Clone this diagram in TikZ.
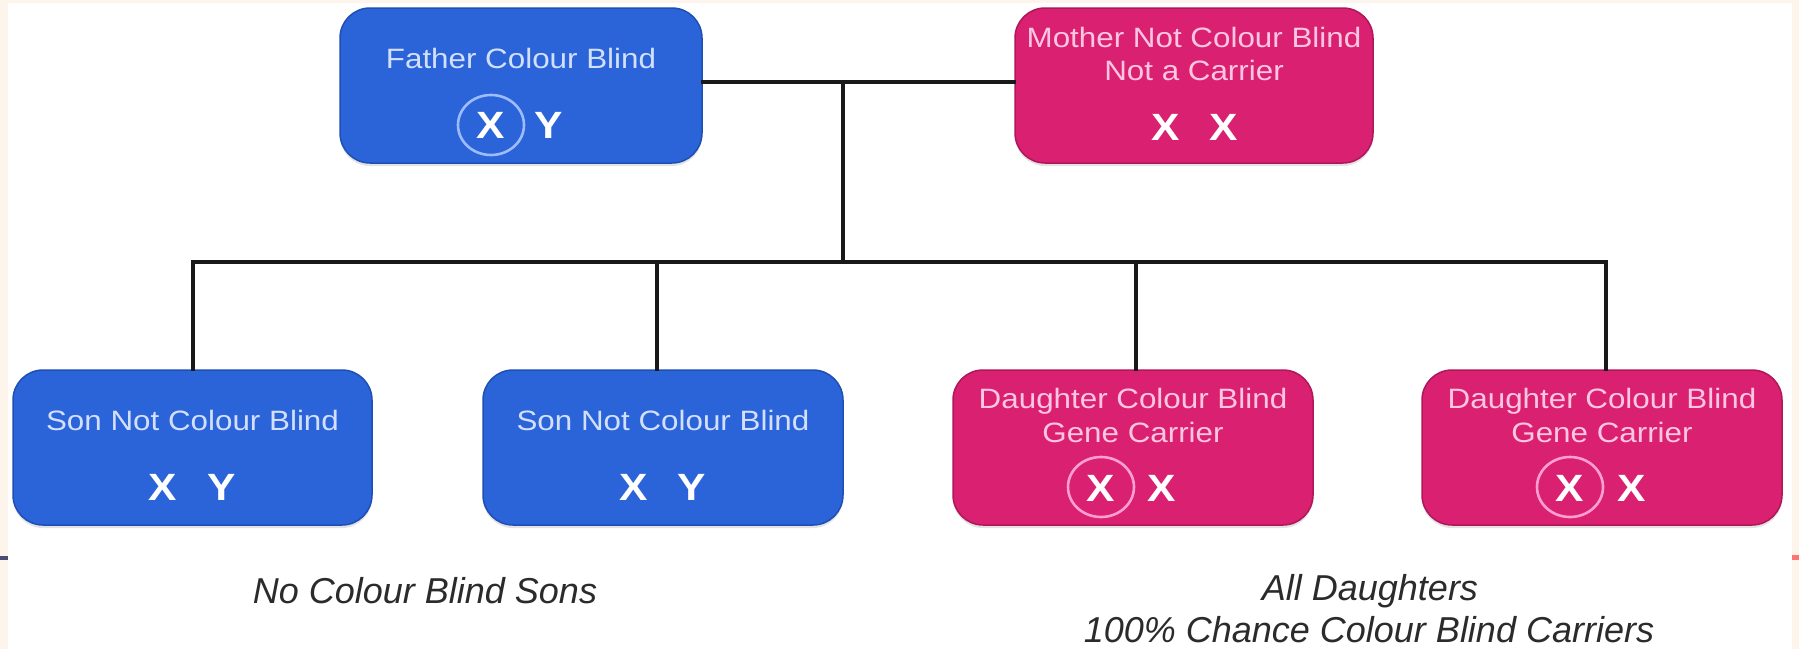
\documentclass[tikz,border=0pt]{standalone}
\usepackage{fontspec}
\usepackage{graphicx}
\setmainfont{Liberation Sans}
\usetikzlibrary{shadows}

\definecolor{boyfill}{HTML}{2A64D8}
\definecolor{boyedge}{HTML}{1F4FB5}
\definecolor{boytext}{HTML}{D2DFFF}
\definecolor{boyring}{HTML}{9DBBFF}
\definecolor{girlfill}{HTML}{DA2070}
\definecolor{girledge}{HTML}{B0175A}
\definecolor{girltext}{HTML}{FFC6E2}
\definecolor{girlring}{HTML}{FF9FD0}
\definecolor{cream}{HTML}{FDF5EC}
\definecolor{notegray}{HTML}{2B2B2B}

% slightly widened sans text, as used inside the boxes
\newcommand\widetext[1]{\scalebox{1.12}[1]{#1}}

\tikzset{
  person/.style={rounded corners=30pt, line width=1.5pt, inner sep=0pt,
    drop shadow={shadow xshift=0pt, shadow yshift=-3pt, opacity=0.22}},
  boy/.style={person, draw=boyedge, fill=boyfill},
  girl/.style={person, draw=girledge, fill=girlfill},
  title/.style={anchor=base, inner sep=0pt, font=\fontsize{28}{33}\selectfont},
  gene/.style={anchor=base, inner sep=0pt, font=\fontsize{38}{40}\bfseries},
  ring/.style={line width=2.6pt},
  link/.style={line width=4pt, draw=black!90, line cap=rect},
  note/.style={anchor=base, inner sep=0pt, text=notegray,
    font=\fontsize{36}{38}\selectfont\itshape}
}

\begin{document}
\begin{tikzpicture}[x=1pt, y=-1pt]
  \useasboundingbox (0,0) rectangle (1799,649);
  \fill[white] (0,0) rectangle (1799,649);
  % pale frame strips and edge marks
  \fill[cream] (0,0) rectangle (8,649);
  \fill[cream] (1792,0) rectangle (1799,649);
  \fill[cream] (0,0) rectangle (1799,3);
  \fill[black!60!blue!40!gray] (0,556) rectangle (8,560);
  \fill[red!55!white] (1792,555) rectangle (1799,560);

  % parents
  \node[boy, minimum width=362pt, minimum height=155pt] (father) at (521,85.5) {};
  \node[girl, minimum width=358pt, minimum height=155pt] (mother) at (1194,85.5) {};

  % children
  \node[boy, minimum width=359pt, minimum height=155pt] (son1) at (192.5,447.5) {};
  \node[boy, minimum width=360pt, minimum height=155pt] (son2) at (663,447.5) {};
  \node[girl, minimum width=360pt, minimum height=155pt] (dau1) at (1133,447.5) {};
  \node[girl, minimum width=360pt, minimum height=155pt] (dau2) at (1602,447.5) {};

  % family tree lines
  \coordinate (pj) at (843,82);
  \coordinate (sj) at (843,262);
  \draw[link] (father.east |- pj) -- (mother.west |- pj);
  \draw[link] (pj) -- (sj);
  \coordinate (d1) at (193,262);
  \coordinate (d2) at (657,262);
  \coordinate (d3) at (1136,262);
  \coordinate (d4) at (1606,262);
  \draw[link] (d1) -- (d4);
  \draw[link] (d1) -- (son1.north -| d1);
  \draw[link] (d2) -- (son2.north -| d2);
  \draw[link] (d3) -- (dau1.north -| d3);
  \draw[link] (d4) -- (dau2.north -| d4);

  % father text
  \node[title, text=boytext] (ft) at (521,68) {\widetext{Father Colour Blind}};
  \draw[ring, draw=boyring] (491,125) ellipse [x radius=33, y radius=30];
  \node[gene, text=white] (fx) at (491,138) {\widetext{X}};
  \node[gene, text=white] (fy) at (549,138) {\widetext{Y}};

  % mother text
  \node[title, text=girltext] (mt1) at (1194,47) {\widetext{Mother Not Colour Blind}};
  \node[title, text=girltext] (mt2) at (1194,80) {\widetext{Not a Carrier}};
  \node[gene, text=white] (mx1) at (1166,140) {\widetext{X}};
  \node[gene, text=white] (mx2) at (1224,140) {\widetext{X}};

  % sons text
  \node[title, text=boytext] (s1t) at (192.5,430) {\widetext{Son Not Colour Blind}};
  \node[gene, text=white] (s1x) at (163,500) {\widetext{X}};
  \node[gene, text=white] (s1y) at (222,500) {\widetext{Y}};
  \node[title, text=boytext] (s2t) at (663,430) {\widetext{Son Not Colour Blind}};
  \node[gene, text=white] (s2x) at (634,500) {\widetext{X}};
  \node[gene, text=white] (s2y) at (692,500) {\widetext{Y}};

  % daughters text
  \node[title, text=girltext] (d1t1) at (1133,408) {\widetext{Daughter Colour Blind}};
  \node[title, text=girltext] (d1t2) at (1133,442) {\widetext{Gene Carrier}};
  \draw[ring, draw=girlring] (1101,487) ellipse [x radius=33, y radius=30];
  \node[gene, text=white] (d1x1) at (1101,501) {\widetext{X}};
  \node[gene, text=white] (d1x2) at (1162,501) {\widetext{X}};

  \node[title, text=girltext] (d2t1) at (1602,408) {\widetext{Daughter Colour Blind}};
  \node[title, text=girltext] (d2t2) at (1602,442) {\widetext{Gene Carrier}};
  \draw[ring, draw=girlring] (1570,487) ellipse [x radius=33, y radius=30];
  \node[gene, text=white] (d2x1) at (1570,501) {\widetext{X}};
  \node[gene, text=white] (d2x2) at (1632,501) {\widetext{X}};

  % summary notes
  \node[note] (sonsnote) at (425,603) {No Colour Blind Sons};
  \node[note] (dausnote1) at (1370,600) {All Daughters};
  \node[note] (dausnote2) at (1369,642) {100\% Chance Colour Blind Carriers};
\end{tikzpicture}
\end{document}
